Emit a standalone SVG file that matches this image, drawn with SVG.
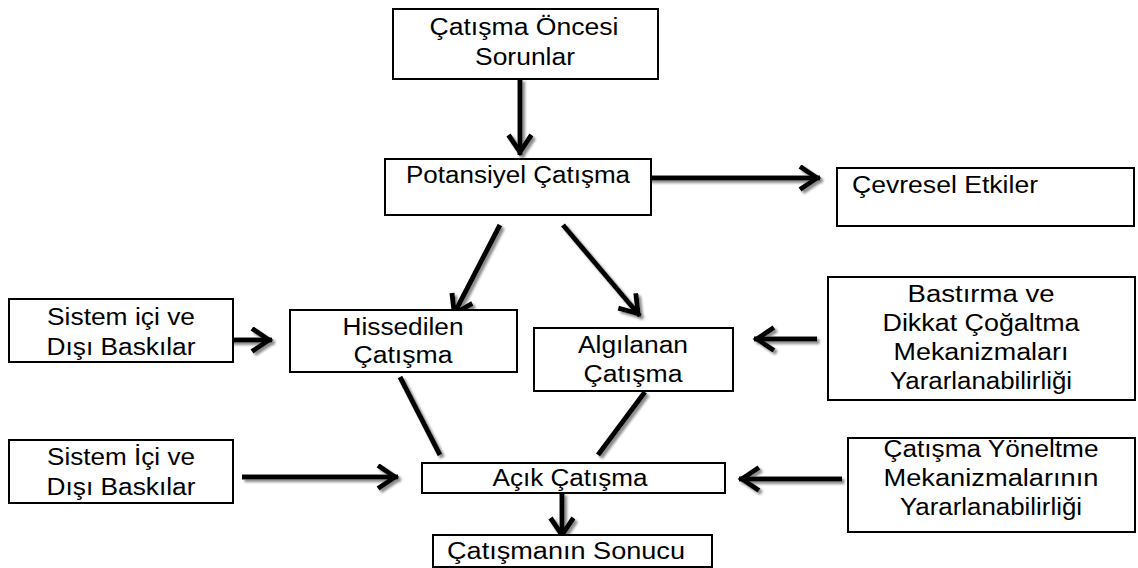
<svg xmlns="http://www.w3.org/2000/svg" width="1138" height="568" viewBox="0 0 1138 568">
  <style>
    .box { fill: #ffffff; stroke: #000000; stroke-width: 2; }
    .lbl { font-family: "Liberation Sans", Arial, sans-serif; font-size: 23px; fill: #000000; text-anchor: middle; }
    .lft { text-anchor: start; }
    .conn { fill: none; stroke: #000000; stroke-width: 5; }
  </style>
  <defs>
    <filter id="shadow" x="-20%" y="-20%" width="140%" height="140%">
      <feDropShadow dx="2.5" dy="2.5" stdDeviation="0.8" flood-color="#8a8a8a" flood-opacity="1"/>
    </filter>
    <marker id="arrow" markerUnits="userSpaceOnUse" markerWidth="30" markerHeight="30" viewBox="0 0 30 30" refX="24" refY="13" orient="auto">
      <path d="M4,1.5 L21,13 L4,24.5" fill="none" stroke="#000000" stroke-width="5" stroke-linejoin="miter"/>
    </marker>
  </defs>

  <g id="connectors" filter="url(#shadow)">
    <path class="conn" d="M520,79 L520,155" marker-end="url(#arrow)"/>
    <path class="conn" d="M648,178 L820,178" marker-end="url(#arrow)"/>
    <path class="conn" d="M500,225 L453,316" marker-end="url(#arrow)"/>
    <path class="conn" d="M563,225 L640,316" marker-end="url(#arrow)"/>
    <path class="conn" d="M229,340 L272,340" marker-end="url(#arrow)"/>
    <path class="conn" d="M817,339 L754,339" marker-end="url(#arrow)"/>
    <path class="conn" d="M400,377 L440,455"/>
    <path class="conn" d="M645,392 L598,455"/>
    <path class="conn" d="M242,477 L398,477" marker-end="url(#arrow)"/>
    <path class="conn" d="M842,479 L739,479" marker-end="url(#arrow)"/>
    <path class="conn" d="M562,493 L562,538" marker-end="url(#arrow)"/>
  </g>

  <g id="n1">
    <rect class="box" x="393" y="9" width="265" height="70"/>
    <text class="lbl" x="524" y="35" textLength="189" lengthAdjust="spacingAndGlyphs">Çatışma Öncesi</text>
    <text class="lbl" x="525" y="65" textLength="100" lengthAdjust="spacingAndGlyphs">Sorunlar</text>
  </g>
  <g id="n2">
    <rect class="box" x="385" y="159" width="266" height="56"/>
    <text class="lbl" x="518" y="183" textLength="224" lengthAdjust="spacingAndGlyphs">Potansiyel Çatışma</text>
  </g>
  <g id="n3">
    <rect class="box" x="837" y="168" width="297" height="58"/>
    <text class="lbl lft" x="852" y="193" textLength="186" lengthAdjust="spacingAndGlyphs">Çevresel Etkiler</text>
  </g>
  <g id="n4">
    <rect class="box" x="9" y="299" width="224" height="63"/>
    <text class="lbl" x="121" y="325" textLength="148" lengthAdjust="spacingAndGlyphs">Sistem içi ve</text>
    <text class="lbl" x="121" y="355" textLength="149" lengthAdjust="spacingAndGlyphs">Dışı Baskılar</text>
  </g>
  <g id="n5">
    <rect class="box" x="290" y="310" width="227" height="62"/>
    <text class="lbl" x="403" y="335" textLength="121" lengthAdjust="spacingAndGlyphs">Hissedilen</text>
    <text class="lbl" x="403" y="363" textLength="99" lengthAdjust="spacingAndGlyphs">Çatışma</text>
  </g>
  <g id="n6">
    <rect class="box" x="534" y="328" width="199" height="63"/>
    <text class="lbl" x="633" y="353" textLength="110" lengthAdjust="spacingAndGlyphs">Algılanan</text>
    <text class="lbl" x="633" y="382" textLength="99" lengthAdjust="spacingAndGlyphs">Çatışma</text>
  </g>
  <g id="n7">
    <rect class="box" x="828" y="277" width="307" height="123"/>
    <text class="lbl" x="981" y="302" textLength="147" lengthAdjust="spacingAndGlyphs">Bastırma ve</text>
    <text class="lbl" x="981" y="331" textLength="197" lengthAdjust="spacingAndGlyphs">Dikkat Çoğaltma</text>
    <text class="lbl" x="981" y="360" textLength="175" lengthAdjust="spacingAndGlyphs">Mekanizmaları</text>
    <text class="lbl" x="981" y="389" textLength="182" lengthAdjust="spacingAndGlyphs">Yararlanabilirliği</text>
  </g>
  <g id="n8">
    <rect class="box" x="9" y="440" width="224" height="63"/>
    <text class="lbl" x="121" y="465" textLength="148" lengthAdjust="spacingAndGlyphs">Sistem İçi ve</text>
    <text class="lbl" x="121" y="495" textLength="149" lengthAdjust="spacingAndGlyphs">Dışı Baskılar</text>
  </g>
  <g id="n9">
    <rect class="box" x="422" y="463" width="303" height="30"/>
    <text class="lbl" x="570" y="486" textLength="155" lengthAdjust="spacingAndGlyphs">Açık Çatışma</text>
  </g>
  <g id="n10">
    <rect class="box" x="433" y="535" width="279" height="32"/>
    <text class="lbl" x="566" y="559" textLength="238" lengthAdjust="spacingAndGlyphs">Çatışmanın Sonucu</text>
  </g>
  <g id="n11">
    <rect class="box" x="848" y="438" width="287" height="94"/>
    <text class="lbl" x="991" y="457" textLength="215" lengthAdjust="spacingAndGlyphs">Çatışma Yöneltme</text>
    <text class="lbl" x="991" y="486" textLength="215" lengthAdjust="spacingAndGlyphs">Mekanizmalarının</text>
    <text class="lbl" x="991" y="515" textLength="182" lengthAdjust="spacingAndGlyphs">Yararlanabilirliği</text>
  </g>
</svg>
